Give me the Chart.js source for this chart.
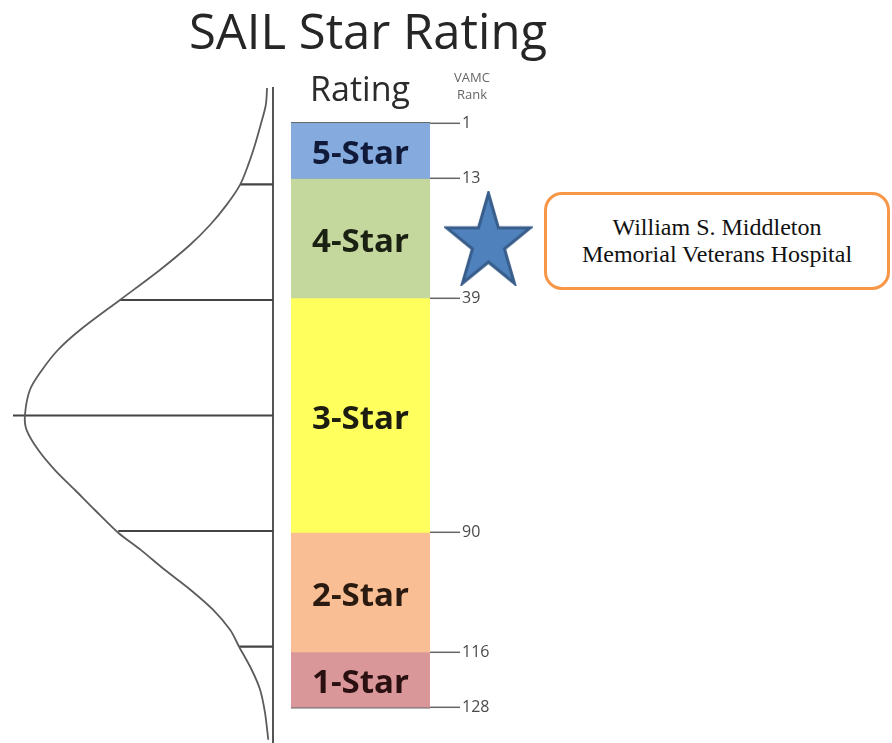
<!DOCTYPE html>
<html lang="en">
<head>
    <meta charset="UTF-8">
    <title>SAIL Star Rating</title>
    <script src="https://cdn.jsdelivr.net/npm/chart.js"></script>
    <style>
        body { margin: 0; background: #fff; }
        #wrap { position: relative; width: 892px; height: 743px; overflow: hidden; }
        #wrap canvas { position: absolute; left: 0; top: 0; }
        .txt { position: absolute; font-family: "Open Sans", sans-serif; line-height: 1; white-space: nowrap; }
        #title { left: 0; top: 6px; width: 736px; text-align: center; font-size: 49px; color: #262626; }
        #head { left: 260px; top: 71px; width: 200px; text-align: center; font-size: 34px; color: #2b2b2b; }
        #rankHead { left: 432px; top: 69px; width: 80px; text-align: center; font-size: 13px; line-height: 17px; color: #666; }
        #callout {
            position: absolute; left: 544px; top: 192px; width: 346px; height: 98px; box-sizing: border-box;
            border: 3.5px solid #f79646; border-radius: 18px; background: #fff;
            display: flex; align-items: center; justify-content: center; text-align: center;
            font-family: "Liberation Serif", "Times New Roman", serif; font-size: 24px; line-height: 27px; color: #111;
        }
    </style>
</head>
<body>
    <div id="wrap">
        <canvas id="curveChart" width="892" height="743"></canvas>
        <canvas id="rankChart" width="892" height="743"></canvas>
        <div id="title" class="txt">SAIL Star Rating</div>
        <div id="head" class="txt">Rating</div>
        <div id="rankHead" class="txt">VAMC<br>Rank</div>
        <div id="callout"></div>
    </div>

    <script>
        // rating bands (VAMC rank ranges)
        const ratingLabels = ['5-Star', '4-Star', '3-Star', '2-Star', '1-Star'];
        const rankStart = [1, 13, 39, 90, 116];
        const rankEnd = [13, 39, 90, 116, 128];
        const rankTicks = [1, 13, 39, 90, 116, 128];
        const bandColors = ['#84aade', '#c4d79c', '#ffff5e', '#f9be93', '#d9979a'];
        const labelColors = ['#101a38', '#1b2112', '#1c1c10', '#2a1a10', '#2a1010'];

        // where the hospital sits
        const hospitalRank = 26;
        const hospitalName = ['William S. Middleton', 'Memorial Veterans Hospital'];

        // bell curve: position in std deviations, relative height (peak = 100)
        const curveSigma = [-2.835, -2.688, -2.515, -2.342, -2.169, -1.996, -1.823, -1.649, -1.476, -1.260,
                            -1.000, -0.740, -0.567, -0.394, -0.221, 0,
                            0.126, 0.299, 0.472, 0.645, 0.818, 1.015, 1.165, 1.338, 1.508, 1.681,
                            1.855, 2.004, 2.201, 2.374, 2.576, 2.807];
        const curveHeight = [2.4, 2.9, 5.0, 7.3, 10.0, 13.3, 18.7, 25.4, 33.5, 45.6,
                             61.7, 77.8, 86.7, 93.1, 98.0, 100,
                             99.3, 94.6, 87.9, 79.8, 71.8, 62.4, 53.2, 43.5, 33.3, 24.2,
                             17.3, 13.6, 8.6, 5.2, 3.2, 1.9];
        const sigmaMarks = [-2, -1, 0, 1, 2];
        const sigmaReach = [13.3, 61.7, 104.8, 62.4, 13.6];

        document.getElementById('callout').innerHTML = hospitalName.join('<br>');

        // star marker drawn once and used as a point style
        function makeStar(w, h) {
            const c = document.createElement('canvas');
            c.width = w; c.height = h;
            const g = c.getContext('2d');
            const p = 2.5;
            const sx = (w - 2 * p) / (2 * Math.sin(72 * Math.PI / 180));
            const sy = (h - 2 * p) / (1 + Math.cos(36 * Math.PI / 180));
            const cx = w / 2, cy = p + sy;
            g.beginPath();
            for (let k = 0; k < 10; k++) {
                const a = (-90 + k * 36) * Math.PI / 180;
                const r = k % 2 === 0 ? 1 : 0.382;
                const px = cx + r * Math.cos(a) * sx;
                const py = cy + r * Math.sin(a) * sy;
                if (k === 0) g.moveTo(px, py); else g.lineTo(px, py);
            }
            g.closePath();
            g.fillStyle = '#4f81bd';
            g.fill();
            g.lineWidth = 3;
            g.strokeStyle = '#385d8a';
            g.stroke();
            return c;
        }

        // ---- bell curve (left) ----
        const sigmaLines = sigmaMarks.map((s, i) => ({
            type: 'scatter',
            data: [{ x: sigmaReach[i], y: s }, { x: 0, y: s }],
            showLine: true,
            borderColor: '#444',
            borderWidth: 2.2,
            pointRadius: 0,
            clip: false
        }));

        new Chart(document.getElementById('curveChart'), {
            type: 'scatter',
            data: {
                datasets: [{
                    data: curveSigma.map((s, i) => ({ x: curveHeight[i], y: s })),
                    showLine: true,
                    tension: 0.3,
                    borderColor: '#5c5c5c',
                    borderWidth: 1.8,
                    pointRadius: 0,
                    clip: false
                }, ...sigmaLines]
            },
            options: {
                responsive: false,
                animation: false,
                layout: { autoPadding: false, padding: { left: 13, right: 619, top: 88, bottom: 0 } },
                plugins: { legend: { display: false }, tooltip: { enabled: false } },
                scales: {
                    x: { type: 'linear', display: false, reverse: true, min: 0, max: 104.8 },
                    y: {
                        type: 'linear', position: 'right', reverse: true, min: -2.835, max: 2.835,
                        ticks: { display: false },
                        grid: { display: false, drawTicks: false },
                        border: { display: true, color: '#555', width: 2 },
                        afterFit: (scale) => { scale.width = 0; }
                    }
                }
            }
        });

        // ---- rating bar (right) ----
        const bandLabelPlugin = {
            id: 'bandLabels',
            afterDatasetsDraw(chart) {
                const { ctx, chartArea, scales } = chart;
                ctx.save();
                ctx.font = 'bold 33px "Open Sans"';
                ctx.textAlign = 'center';
                ctx.textBaseline = 'middle';
                ratingLabels.forEach((t, i) => {
                    const y = scales.y.getPixelForValue((rankStart[i] + rankEnd[i]) / 2);
                    ctx.fillStyle = labelColors[i];
                    ctx.fillText(t, (chartArea.left + chartArea.right) / 2, y + 4);
                });
                ctx.restore();
            }
        };

        const bandSets = ratingLabels.map((name, i) => ({
            label: name,
            data: [[rankStart[i], rankEnd[i]]],
            backgroundColor: bandColors[i],
            borderWidth: 0,
            barPercentage: 1,
            categoryPercentage: 1,
            grouped: false,
            order: 1
        }));

        new Chart(document.getElementById('rankChart'), {
            type: 'bar',
            data: {
                labels: ['Rating'],
                datasets: [...bandSets, {
                    type: 'scatter',
                    label: 'hospital',
                    xAxisID: 'xMark',
                    data: [{ x: 1.42, y: hospitalRank }],
                    pointStyle: makeStar(89, 95),
                    pointRadius: 70,
                    pointHoverRadius: 70,
                    clip: false,
                    order: 0
                }]
            },
            options: {
                responsive: false,
                animation: false,
                layout: { autoPadding: false, padding: { left: 291, right: 402, top: 20, bottom: 20 } },
                plugins: { legend: { display: false }, tooltip: { enabled: false } },
                scales: {
                    x: { display: false },
                    xMark: { type: 'linear', position: 'bottom', display: false, offset: false, min: 0, max: 1 },
                    y: {
                        type: 'linear', position: 'right', reverse: true, min: -21.49, max: 131.46,
                        z: 1,
                        afterBuildTicks: (scale) => { scale.ticks = rankTicks.map(v => ({ value: v })); },
                        afterFit: (scale) => { scale.width = 60; },
                        ticks: { color: '#4a4a4a', font: { family: 'Open Sans', size: 16 }, padding: 2, autoSkip: false },
                        grid: { color: 'rgba(45,45,45,0.72)', lineWidth: 2.6, tickColor: '#666', tickWidth: 1.5, tickLength: 30 },
                        border: { display: false }
                    }
                }
            },
            plugins: [bandLabelPlugin]
        });
    </script>
</body>
</html>
